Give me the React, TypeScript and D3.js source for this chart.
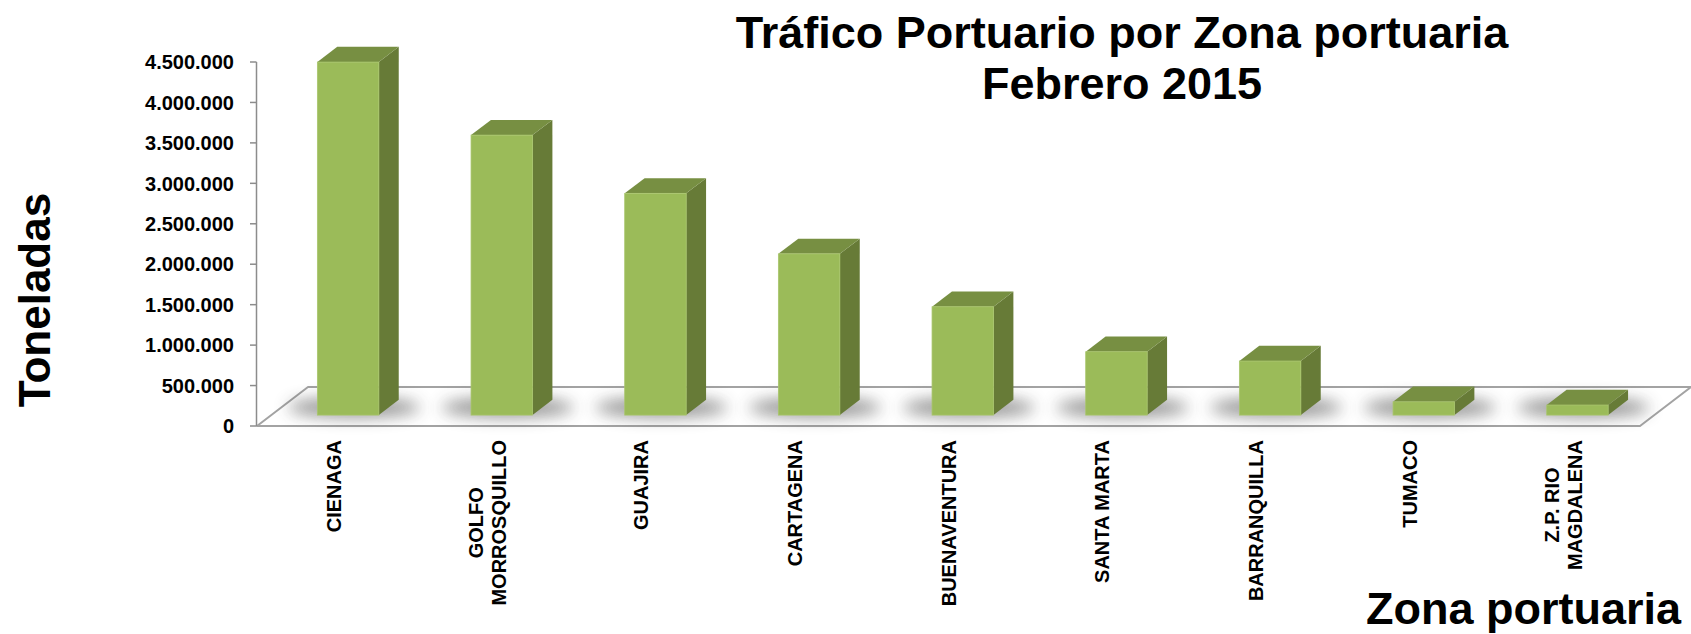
import { useEffect, useRef } from "react";
import * as d3 from "d3";

const categories = [
  "CIENAGA",
  "GOLFO\nMORROSQUILLO",
  "GUAJIRA",
  "CARTAGENA",
  "BUENAVENTURA",
  "SANTA MARTA",
  "BARRANQUILLA",
  "TUMACO",
  "Z.P. RIO\nMAGDALENA",
];
const values = [4364000, 3461000, 2741000, 1993000, 1339000, 783000, 668000, 164000, 124000];
const yTickValues = [0, 500000, 1000000, 1500000, 2000000, 2500000, 3000000, 3500000, 4000000, 4500000];
const titleLines = ["Tráfico Portuario por Zona portuaria", "Febrero 2015"];

const W = 1691;
const H = 634;

export default function App() {
  const ref = useRef<SVGSVGElement>(null);

  useEffect(() => {
    const svg = d3.select(ref.current);
    svg.selectAll("*").remove();

    const font = "'Liberation Sans', Arial, sans-serif";
    const floorLeft = 257;
    const floorRight = 1640;
    const depth = { dx: 51, dy: -39 };
    const z0 = 0.28;
    const z1 = 0.67;

    const y = d3.scaleLinear().domain([0, 4500000]).range([426, 62]);
    const x = d3
      .scaleBand()
      .domain(categories)
      .range([floorLeft, floorRight])
      .paddingInner(0.6)
      .paddingOuter(0.3);
    const bw = x.bandwidth();

    const proj = (px: number, v: number, z: number): [number, number] => [
      px + z * depth.dx,
      y(v) + z * depth.dy,
    ];
    const pts = (arr: [number, number][]) => arr.map((p) => p.join(",")).join(" ");

    const fmt = d3
      .formatLocale({ decimal: ",", thousands: ".", grouping: [3], currency: ["$", ""] })
      .format(",d");

    const defs = svg.append("defs");
    defs
      .append("filter")
      .attr("id", "shadow")
      .attr("x", "-50%")
      .attr("y", "-150%")
      .attr("width", "200%")
      .attr("height", "400%")
      .append("feGaussianBlur")
      .attr("stdDeviation", 8);

    // floor
    svg
      .append("polygon")
      .attr(
        "points",
        pts([
          proj(floorLeft, 0, 0),
          proj(floorRight, 0, 0),
          proj(floorRight, 0, 1),
          proj(floorLeft, 0, 1),
        ])
      )
      .attr("fill", "#fff")
      .attr("stroke", "#a3a3a3")
      .attr("stroke-width", 2)
      .attr("stroke-linejoin", "round");

    // shadows under bars
    svg
      .append("g")
      .selectAll("ellipse")
      .data(categories)
      .enter()
      .append("ellipse")
      .attr("cx", (d) => proj(x(d)! + bw / 2 - 4, 0, (z0 + z1) / 2)[0])
      .attr("cy", (d) => proj(x(d)! + bw / 2, 0, (z0 + z1) / 2)[1])
      .attr("rx", 66)
      .attr("ry", 10)
      .attr("fill", "#404040")
      .attr("opacity", 0.55)
      .attr("filter", "url(#shadow)");

    // bars
    const bars = svg
      .append("g")
      .selectAll("g")
      .data(categories.map((c, i) => ({ c, v: values[i] })))
      .enter()
      .append("g");

    bars
      .append("polygon")
      .attr("points", (d) => {
        const a = x(d.c)! + bw;
        return pts([proj(a, 0, z0), proj(a, 0, z1), proj(a, d.v, z1), proj(a, d.v, z0)]);
      })
      .attr("fill", "#677b37");

    bars
      .append("polygon")
      .attr("points", (d) => {
        const a = x(d.c)!;
        return pts([proj(a, d.v, z0), proj(a + bw, d.v, z0), proj(a + bw, d.v, z1), proj(a, d.v, z1)]);
      })
      .attr("fill", "#778f42");

    bars
      .append("rect")
      .attr("x", (d) => proj(x(d.c)!, 0, z0)[0])
      .attr("y", (d) => proj(0, d.v, z0)[1])
      .attr("width", bw)
      .attr("height", (d) => proj(0, 0, z0)[1] - proj(0, d.v, z0)[1])
      .attr("fill", "#9bbb59")
      .attr("stroke", "#a9c66c")
      .attr("stroke-width", 0.8);

    // y axis
    const axis = svg.append("g");
    axis
      .append("line")
      .attr("x1", 256.5)
      .attr("x2", 256.5)
      .attr("y1", y(4500000))
      .attr("y2", y(0))
      .attr("stroke", "#8c8c8c")
      .attr("stroke-width", 1.5);
    axis
      .selectAll(".tick")
      .data(yTickValues)
      .enter()
      .append("line")
      .attr("x1", 250)
      .attr("x2", 256.5)
      .attr("y1", (d) => y(d))
      .attr("y2", (d) => y(d))
      .attr("stroke", "#8c8c8c")
      .attr("stroke-width", 1.5);
    axis
      .selectAll(".lbl")
      .data(yTickValues)
      .enter()
      .append("text")
      .attr("x", 234)
      .attr("y", (d) => y(d))
      .attr("dy", "0.36em")
      .attr("text-anchor", "end")
      .attr("font-family", font)
      .attr("font-weight", "bold")
      .attr("font-size", 20)
      .attr("fill", "#000")
      .text((d) => fmt(d));

    // category labels
    categories.forEach((c) => {
      const lines = c.split("\n");
      const cx = x(c)! + bw / 2;
      const g = svg
        .append("g")
        .attr("transform", `translate(${cx},440) rotate(-90)`);
      const texts = lines.map((ln, i) =>
        g
          .append("text")
          .attr("y", (i - (lines.length - 1) / 2) * 23)
          .attr("dy", "0.36em")
          .attr("text-anchor", "middle")
          .attr("font-family", font)
          .attr("font-weight", "bold")
          .attr("font-size", 20)
          .attr("fill", "#000")
          .text(ln)
      );
      const maxLen = d3.max(texts, (t) => (t.node() as SVGTextElement).getComputedTextLength()) || 0;
      texts.forEach((t) => t.attr("x", -maxLen / 2));
    });

    // titles
    svg
      .append("text")
      .attr("x", 1122)
      .attr("font-family", font)
      .attr("font-weight", "bold")
      .attr("font-size", 45)
      .attr("text-anchor", "middle")
      .selectAll("tspan")
      .data(titleLines)
      .enter()
      .append("tspan")
      .attr("x", 1122)
      .attr("y", (_, i) => 48 + i * 51)
      .text((d) => d);

    svg
      .append("text")
      .attr("transform", "translate(50,300) rotate(-90)")
      .attr("text-anchor", "middle")
      .attr("font-family", font)
      .attr("font-weight", "bold")
      .attr("font-size", 44)
      .text("Toneladas");

    svg
      .append("text")
      .attr("x", 1681)
      .attr("y", 624)
      .attr("text-anchor", "end")
      .attr("font-family", font)
      .attr("font-weight", "bold")
      .attr("font-size", 45)
      .text("Zona portuaria");
  }, []);

  return (
    <svg
      ref={ref}
      width={W}
      height={H}
      style={{ position: "absolute", left: 0, top: 0, background: "#fff" }}
    ></svg>
  );
}
